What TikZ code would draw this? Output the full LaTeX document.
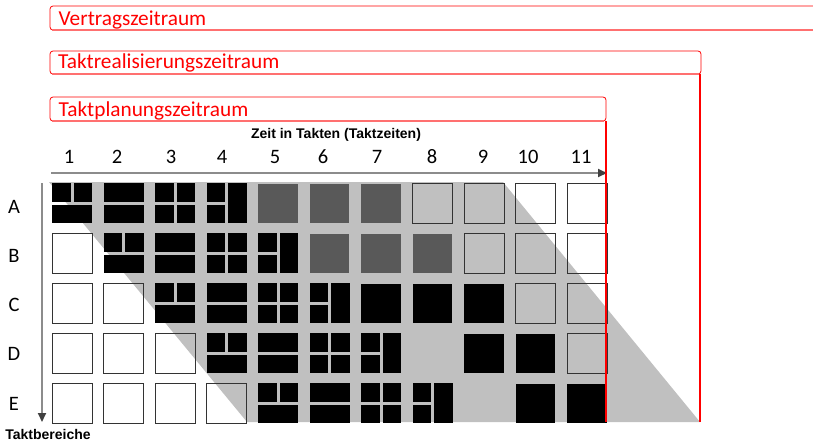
\documentclass[tikz,border=0pt]{standalone}
\usepackage{fontspec}
\setmainfont{Carlito}
\newfontfamily\capfont{Liberation Sans}
\usetikzlibrary{arrows.meta}
\definecolor{cellgray}{HTML}{595959}
\definecolor{bandgray}{HTML}{C0C0C0}
\definecolor{axisgray}{HTML}{8C8C8C}
\definecolor{tipgray}{HTML}{404040}
\definecolor{boxred}{HTML}{FF0000}
\definecolor{shadred}{HTML}{FF7070}
\tikzset{
  blk/.style={fill=black},
  dgcell/.style={fill=cellgray},
  outl/.style={draw=black!80, line width=1pt},
  numlbl/.style={font=\fontsize{20.5}{22}\selectfont, anchor=base, inner sep=0pt},
  redlbl/.style={font=\fontsize{21.3}{23}\selectfont, text=boxred, anchor=base west, inner sep=0pt},
  capt/.style={font=\capfont\bfseries\fontsize{14}{16}\selectfont, anchor=base, inner sep=0pt},
  redbox/.style={draw=boxred, line width=0.8pt, rounded corners=3pt},
  redline/.style={draw=boxred, line width=2pt},
  axis/.style={draw=axisgray, line width=2pt, -{Triangle[length=9pt,width=8pt,color=tipgray]}}
}
\newcommand\mycellA[2]{%
  \fill[blk] (#1,#2) rectangle ++(18.5,19);
  \fill[blk] ({#1+21.5},#2) rectangle ++(18.5,19);
  \fill[blk] (#1,{#2+22}) rectangle ++(40,18);}
\newcommand\mycellB[2]{%
  \fill[blk] (#1,#2) rectangle ++(40,19);
  \fill[blk] (#1,{#2+22}) rectangle ++(40,18);}
\newcommand\mycellC[2]{%
  \fill[blk] (#1,#2) rectangle ++(18.5,19);
  \fill[blk] ({#1+21.5},#2) rectangle ++(18.5,19);
  \fill[blk] (#1,{#2+22}) rectangle ++(18.5,18);
  \fill[blk] ({#1+21.5},{#2+22}) rectangle ++(18.5,18);}
\newcommand\mycellD[2]{%
  \fill[blk] (#1,#2) rectangle ++(18.5,19);
  \fill[blk] (#1,{#2+22}) rectangle ++(18.5,18);
  \fill[blk] ({#1+21.5},#2) rectangle ++(18.5,40);}
\newcommand\mycellG[2]{\fill[dgcell] (#1,{#2+0.5}) rectangle ++(39.5,39);}
\newcommand\mycellK[2]{\fill[blk] (#1,{#2+0.5}) rectangle ++(39.5,39);}
\newcommand\mycellO[2]{\draw[outl] (#1,#2) rectangle ++(40,40);}
\newcommand\mycellN[2]{}
\newcommand\tcell[3]{%
  \pgfmathsetmacro\cx{52+(#1-1)*51.5}%
  \pgfmathsetmacro\cy{183+(#2-1)*50}%
  \csname mycell#3\endcsname{\cx}{\cy}}
\begin{document}
\begin{tikzpicture}[x=1pt,y=-1pt]
  \useasboundingbox (0,0) rectangle (813,445);
  \fill[white] (0,0) rectangle (813,445);
  % grey band
  \fill[bandgray] (49,182) -- (503,182) -- (700,422) -- (247,422) -- cycle;
  % cells
  \foreach \row [count=\r] in {
      {A,B,C,D,G,G,G,O,O,O,O},
      {O,A,B,C,D,G,G,G,O,O,O},
      {O,O,A,B,C,D,K,K,K,O,O},
      {O,O,O,A,B,C,D,N,K,K,O},
      {O,O,O,O,A,B,C,D,N,K,K}} {
    \foreach \t [count=\c] in \row {\tcell{\c}{\r}{\t}}
  }
  % axes
  \coordinate (hx0) at (51,173);
  \coordinate (hx1) at (607,173);
  \coordinate (vy0) at (42,183);
  \coordinate (vy1) at (42,422);
  \draw[axis] (hx0) -- (hx1);
  \draw[axis] (vy0) -- (vy1);
  % column numbers
  \foreach \n/\xx in {1/69,2/117,3/171,4/222,5/275,6/323,7/377,8/432,9/483,10/528,11/581}
    \node[numlbl] (num\n) at (\xx,163) {\n};
  % row labels
  \foreach \l [count=\i] in {A,B,C,D,E}
    \node[numlbl] (row\l) at (14,{213+(\i-1)*49.3}) {\l};
  % captions
  \node[capt] (zeit) at (336,138) {Zeit in Takten (Taktzeiten)};
  \node[capt] (bereich) at (48,439) {Taktbereiche};
  % red period boxes
  \draw[redbox] (50,6) rectangle (830,30);
  \draw[shadred, line width=1.2pt] (52,30) -- (813,30);
  \node[redlbl] (vertrag) at (58.5,25) {Vertragszeitraum};
  \draw[redbox] (50,51) rectangle (701,74);
  \draw[shadred, line width=1.2pt] (52,74) -- (699,74);
  \node[redlbl] (real) at (58,68) {Taktrealisierungszeitraum};
  \draw[redbox] (50,97) rectangle (606,121);
  \draw[shadred, line width=1.2pt] (52,121) -- (604,121);
  \node[redlbl] (plan) at (58.5,116) {Taktplanungszeitraum};
  % red vertical lines
  \coordinate (p0) at (606,121);
  \coordinate (p1) at (606,422);
  \coordinate (r0) at (700,74);
  \coordinate (r1) at (700,422);
  \draw[redline] (p0) -- (p1);
  \draw[redline] (r0) -- (r1);
\end{tikzpicture}
\end{document}
